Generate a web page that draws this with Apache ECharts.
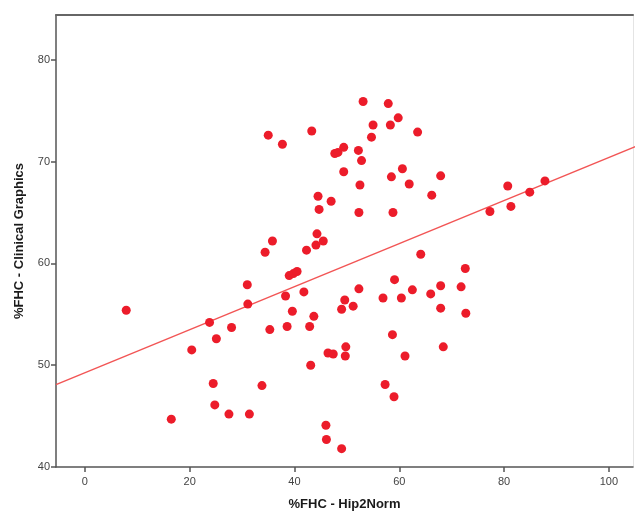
<!DOCTYPE html>
<html lang="en">
<head>
    <meta charset="UTF-8">
    <title>%FHC scatter</title>
    <script src="https://cdn.jsdelivr.net/npm/echarts@6/dist/echarts.min.js"></script>
    <style>
        html, body {
            margin: 0;
            padding: 0;
            background: #fff;
        }

        #main {
            width: 636px;
            height: 516px;
        }
    </style>
</head>
<body>
<div id="main"></div>

<script type="text/javascript">
    // values
    var hip2Norm = [7.9, 16.5, 20.4, 23.8, 24.5, 24.8, 25.1, 27.5, 28.0, 31.0,
        31.1, 31.4, 33.8, 34.4, 35.0, 35.3, 35.8, 37.7, 38.3, 38.6,
        39.0, 39.6, 39.8, 40.5, 41.8, 42.3, 42.9, 43.1, 43.3, 43.7,
        44.1, 44.3, 44.5, 44.7, 45.5, 46.0, 46.1, 46.4, 47.0, 47.4,
        47.7, 48.3, 49.0, 49.0, 49.4, 49.4, 49.6, 49.7, 49.8, 51.2,
        52.2, 52.3, 52.3, 52.5, 52.8, 53.1, 54.7, 55.0, 56.9, 57.3,
        57.9, 58.3, 58.5, 58.7, 58.8, 59.0, 59.1, 59.8, 60.4, 60.6,
        61.1, 61.9, 62.5, 63.5, 64.1, 66.0, 66.2, 67.9, 67.9, 67.9,
        68.4, 71.8, 72.6, 72.7, 77.3, 80.7, 81.3, 84.9, 87.8];
    var clinicalGraphics = [55.4, 44.7, 51.5, 54.2, 48.2, 46.1, 52.6, 45.2, 53.7, 57.9,
        56.0, 45.2, 48.0, 61.1, 72.6, 53.5, 62.2, 71.7, 56.8, 53.8,
        58.8, 55.3, 59.0, 59.2, 57.2, 61.3, 53.8, 50.0, 73.0, 54.8,
        61.8, 62.9, 66.6, 65.3, 62.2, 44.1, 42.7, 51.2, 66.1, 51.1,
        70.8, 70.9, 55.5, 41.8, 71.4, 69.0, 56.4, 50.9, 51.8, 55.8,
        71.1, 57.5, 65.0, 67.7, 70.1, 75.9, 72.4, 73.6, 56.6, 48.1,
        75.7, 73.6, 68.5, 53.0, 65.0, 46.9, 58.4, 74.3, 56.6, 69.3,
        50.9, 67.8, 57.4, 72.9, 60.9, 57.0, 66.7, 57.8, 55.6, 68.6,
        51.8, 57.7, 59.5, 55.1, 65.1, 67.6, 65.6, 67.0, 68.1];

    // fit line: intercept, slope
    var fitLine = [49.26, 0.2114];

    var xRange = [-5.5, 104.6];
    var yRange = [40, 84.4];
    var xTicks = [0, 20, 40, 60, 80, 100];
    var yTicks = [40, 50, 60, 70, 80];

    var points = hip2Norm.map(function (x, i) {
        return [x, clinicalGraphics[i]];
    });
    var linePts = [xRange[0], xRange[1] + 0.6].map(function (x) {
        return [x, fitLine[0] + fitLine[1] * x];
    });

    var myChart = echarts.init(document.getElementById('main'));

    var option = {
        backgroundColor: '#fff',
        animation: false,
        grid: {
            left: 56,
            top: 15,
            right: 3,
            bottom: 48
        },
        xAxis: [{
            type: 'value',
            min: xRange[0],
            max: xRange[1],
            name: '%FHC - Hip2Norm',
            nameLocation: 'middle',
            nameGap: 31,
            nameTextStyle: {
                fontFamily: 'Liberation Sans',
                fontWeight: 'bold',
                fontSize: 13,
                color: '#1a1a1a'
            },
            axisLine: {onZero: false, lineStyle: {color: '#555', width: 1.5}},
            axisTick: {show: true, length: 5, customValues: xTicks, lineStyle: {color: '#555', width: 1.5}},
            axisLabel: {
                customValues: xTicks,
                color: '#444',
                fontFamily: 'Liberation Sans',
                fontSize: 11,
                margin: 9
            },
            splitLine: {show: false}
        }, {
            type: 'value',
            position: 'top',
            min: xRange[0],
            max: xRange[1],
            axisLine: {show: true, onZero: false, lineStyle: {color: '#666', width: 2}},
            axisTick: {show: false},
            axisLabel: {show: false},
            splitLine: {show: false}
        }],
        yAxis: [{
            type: 'value',
            min: yRange[0],
            max: yRange[1],
            name: '%FHC - Clinical Graphics',
            nameLocation: 'middle',
            nameGap: 30,
            nameTextStyle: {
                fontFamily: 'Liberation Sans',
                fontWeight: 'bold',
                fontSize: 13,
                color: '#1a1a1a'
            },
            axisLine: {show: true, onZero: false, lineStyle: {color: '#555', width: 1.5}},
            axisTick: {show: true, length: 5, customValues: yTicks, lineStyle: {color: '#555', width: 1.5}},
            axisLabel: {
                customValues: yTicks,
                color: '#444',
                fontFamily: 'Liberation Sans',
                fontSize: 11,
                margin: 6
            },
            splitLine: {show: false}
        }, {
            type: 'value',
            position: 'right',
            min: yRange[0],
            max: yRange[1],
            axisLine: {show: true, onZero: false, lineStyle: {color: '#e4e4e4', width: 1}},
            axisTick: {show: false},
            axisLabel: {show: false},
            splitLine: {show: false}
        }],
        series: [{
            name: 'fit',
            type: 'line',
            data: linePts,
            symbol: 'none',
            clip: false,
            lineStyle: {color: '#f25555', width: 1.4},
            z: 1
        }, {
            name: 'points',
            type: 'scatter',
            data: points,
            symbolSize: 9,
            itemStyle: {color: '#ec1c2a', opacity: 1},
            z: 2
        }]
    };

    myChart.setOption(option);
</script>

</body>
</html>
